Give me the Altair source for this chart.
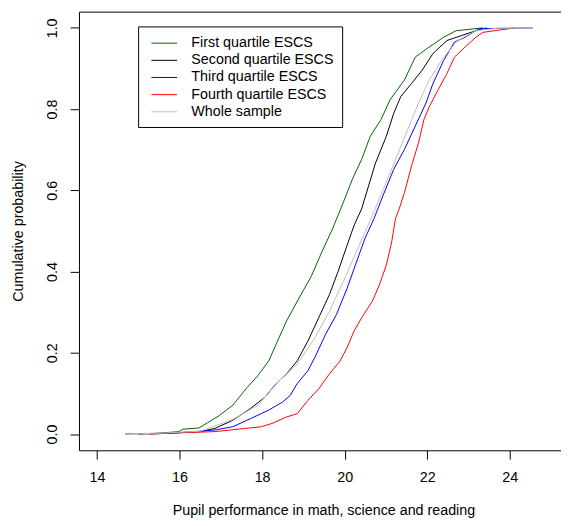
import altair as alt
import pandas as pd

series_names = ["First quartile ESCS", "Second quartile ESCS", "Third quartile ESCS",
                "Fourth quartile ESCS", "Whole sample"]
series_colors = ["#006400", "#000000", "#0000FF", "#FF0000", "#BEBEBE"]

q1_x = [14.68, 15.50, 15.99, 16.08, 16.47, 16.68, 16.94, 17.29, 17.64, 17.90, 18.16, 18.34, 18.59,
        18.94, 19.19, 19.45, 19.71, 19.97, 20.19, 20.41, 20.62, 20.88, 21.10, 21.45, 21.71,
        22.05, 22.40, 22.70, 23.35]
q1_y = [0.000, 0.002, 0.006, 0.012, 0.015, 0.028, 0.044, 0.071, 0.115, 0.144, 0.180, 0.221, 0.278,
        0.343, 0.388, 0.449, 0.506, 0.571, 0.628, 0.676, 0.733, 0.774, 0.823, 0.872, 0.928,
        0.953, 0.977, 0.993, 1.000]

q2_x = [15.00, 15.60, 16.51, 16.86, 17.29, 17.72, 18.07, 18.34, 18.59, 18.85, 19.11, 19.37, 19.63,
        19.84, 20.06, 20.23, 20.41, 20.58, 20.75, 21.01, 21.19, 21.36, 21.62, 21.88, 22.14,
        22.48, 22.83, 23.18, 23.44]
q2_y = [0.000, 0.002, 0.006, 0.014, 0.034, 0.063, 0.091, 0.124, 0.148, 0.180, 0.229, 0.286, 0.343,
        0.400, 0.465, 0.514, 0.554, 0.611, 0.668, 0.733, 0.790, 0.831, 0.863, 0.896, 0.937,
        0.969, 0.981, 0.993, 1.000]

q3_x = [15.30, 16.00, 16.86, 17.29, 17.72, 18.16, 18.50, 18.68, 18.85, 19.11, 19.28, 19.54, 19.80,
        20.06, 20.32, 20.49, 20.71, 20.93, 21.19, 21.45, 21.71, 21.97, 22.14, 22.40, 22.66,
        22.92, 23.26, 24.56]
q3_y = [0.000, 0.003, 0.010, 0.018, 0.038, 0.059, 0.079, 0.095, 0.124, 0.156, 0.189, 0.246, 0.294,
        0.359, 0.433, 0.481, 0.530, 0.587, 0.652, 0.701, 0.758, 0.815, 0.863, 0.920, 0.965,
        0.977, 0.998, 1.000]

q4_x = [15.23, 16.00, 16.86, 17.98, 18.24, 18.59, 18.85, 19.11, 19.37, 19.63, 19.89, 20.06, 20.23,
        20.41, 20.67, 20.84, 21.01, 21.14, 21.23, 21.32, 21.45, 21.62, 21.79, 21.92, 22.05,
        22.22, 22.48, 22.66, 22.92, 23.18, 23.35, 24.13]
q4_y = [0.000, 0.003, 0.006, 0.018, 0.026, 0.042, 0.050, 0.083, 0.111, 0.148, 0.180, 0.213, 0.254,
        0.286, 0.327, 0.367, 0.416, 0.473, 0.530, 0.554, 0.595, 0.660, 0.717, 0.774, 0.806,
        0.839, 0.888, 0.928, 0.953, 0.977, 0.989, 1.000]

all_x = [14.68, 15.50, 16.51, 17.29, 17.90, 18.42, 18.85, 19.28, 19.63, 19.97, 20.32, 20.67, 21.01,
         21.27, 21.53, 21.79, 22.05, 22.40, 22.74, 23.18, 23.70, 24.56]
all_y = [0.000, 0.002, 0.007, 0.036, 0.071, 0.132, 0.172, 0.237, 0.302, 0.376, 0.457, 0.538, 0.620,
         0.685, 0.750, 0.815, 0.872, 0.928, 0.969, 0.993, 0.999, 1.000]

x_ticks = [14, 16, 18, 20, 22, 24]
y_ticks = [0.0, 0.2, 0.4, 0.6, 0.8, 1.0]

rows = []
for name, xs, ys in zip(series_names, [q1_x, q2_x, q3_x, q4_x, all_x],
                        [q1_y, q2_y, q3_y, q4_y, all_y]):
    for i, (a, b) in enumerate(zip(xs, ys)):
        rows.append({"series": name, "score": a, "prob": b, "idx": i})
df = pd.DataFrame(rows)

FONT = "Liberation Sans"
FS = 14.5
xscale = alt.Scale(domain=[13.563, 25.242], nice=False, zero=False)
yscale = alt.Scale(domain=[-0.04, 1.04], nice=False, zero=False)

lines = alt.Chart(df).mark_line(strokeWidth=1, clip=True).encode(
    x=alt.X("score:Q", scale=xscale, axis=alt.Axis(
        values=x_ticks, format="d", orient="bottom", grid=False,
        title="Pupil performance in math, science and reading",
        tickSize=9, tickColor="black", domainColor="black", labelColor="black",
        labelFont=FONT, labelFontSize=FS, labelPadding=12,
        titleFont=FONT, titleFontSize=FS, titleFontWeight="normal", titleColor="black",
        titleX=248, titleY=65, titleAlign="center", titleBaseline="alphabetic")),
    y=alt.Y("prob:Q", scale=yscale, axis=alt.Axis(
        values=y_ticks, format=".1f", grid=False, title="Cumulative probability",
        tickSize=9, tickColor="black", domainColor="black", labelColor="black",
        labelFont=FONT, labelFontSize=FS, labelAngle=270, labelAlign="center",
        labelBaseline="alphabetic", labelPadding=14,
        titleFont=FONT, titleFontSize=FS, titleFontWeight="normal", titleColor="black",
        titleX=-57, titleBaseline="alphabetic")),
    color=alt.Color("series:N", scale=alt.Scale(domain=series_names, range=series_colors),
                    legend=alt.Legend(
                        title=None, orient="none", legendX=60, legendY=15,
                        symbolType="M-0.41,0H2.65", symbolSize=289, symbolStrokeWidth=1,
                        labelFont=FONT, labelFontSize=FS, labelColor="black",
                        labelOffset=28, labelLimit=0, padding=8, rowPadding=1.4,
                        strokeColor="black", fillColor="white", cornerRadius=0)),
    order="idx:Q",
)

frame_top = alt.Chart(df).mark_line(strokeOpacity=0).encode(
    x=alt.X("score:Q", scale=xscale, axis=alt.Axis(
        orient="top", labels=False, ticks=False, title=None, grid=False,
        domainColor="black")),
    y=alt.Y("prob:Q", scale=yscale, axis=None),
)

chart = alt.layer(lines, frame_top).resolve_axis(x="independent", y="independent").properties(
    width=489, height=445,
    autosize=alt.AutoSizeParams(type="none"),
    padding={"left": 72, "top": 0, "right": 0, "bottom": 65},
).configure_view(stroke=None)

chart.save("out.html", embed_options={"renderer": "svg", "actions": False})
